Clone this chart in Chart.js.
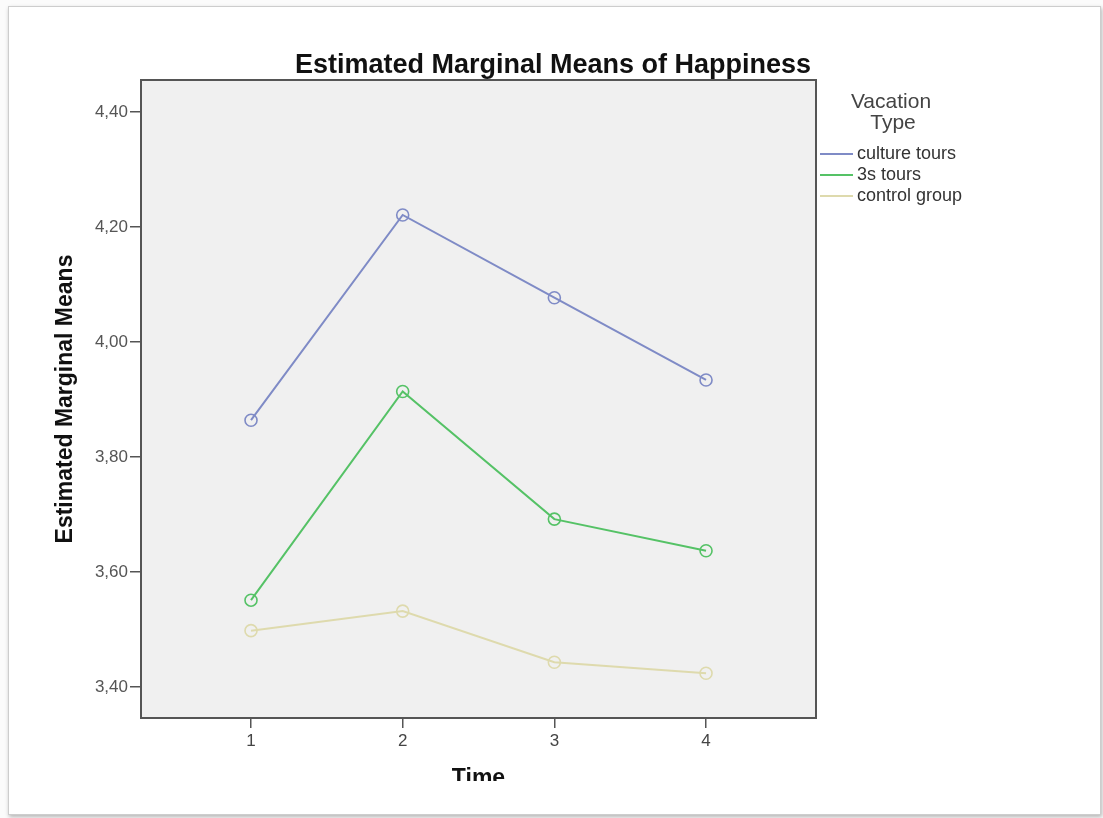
<!DOCTYPE html>
<html>
<head>
<meta charset="utf-8">
<script src="https://cdn.jsdelivr.net/npm/chart.js@4"></script>
<style>
  html, body { margin:0; padding:0; background:#fbfbfb; width:1103px; height:818px; overflow:hidden; }
  .frame { position:absolute; left:8px; top:6px; width:1091px; height:807px; background:#fff;
           border:1px solid #cdcdcd; box-shadow:1px 2px 4px rgba(0,0,0,0.28); }
  .clip { position:absolute; left:0; top:0; width:1103px; height:781px; overflow:hidden; }
  canvas { position:absolute; left:0; top:0; }
</style>
</head>
<body>
<div class="frame"></div>
<div class="clip"><canvas id="emm" width="1103" height="818"></canvas></div>
<script>
// Estimated Marginal Means of Happiness, by time and vacation type
const chartTitle = 'Estimated Marginal Means of Happiness';
const legendTitle = ['Vacation', 'Type'];
const timePoints = [1, 2, 3, 4];
const yTicks = [3.4, 3.6, 3.8, 4.0, 4.2, 4.4];

const groupNames = ['culture tours', '3s tours', 'control group'];
const cultureTours = [3.864, 4.221, 4.077, 3.934];
const threeSTours = [3.551, 3.914, 3.692, 3.637];
const controlGroup = [3.498, 3.532, 3.443, 3.424];
const groupColors = ['#7f8bc6', '#55c266', '#dedaad'];

Chart.defaults.font.family = '"Liberation Sans", Arial, sans-serif';

const pts = vals => timePoints.map((t, i) => ({x: t, y: vals[i]}));
const mkSet = (label, vals, col) => ({
  label, data: pts(vals),
  borderColor: col, backgroundColor: 'rgba(0,0,0,0)',
  borderWidth: 2, tension: 0,
  pointRadius: 6, pointBorderWidth: 1.6, pointHoverRadius: 6,
  pointBorderColor: col, pointBackgroundColor: 'rgba(0,0,0,0)'
});

// grey plot panel with dark frame
const panel = {
  id: 'panel',
  beforeDatasetsDraw(chart){
    const {ctx, chartArea:a} = chart;
    ctx.save();
    ctx.fillStyle = '#f0f0f0';
    ctx.fillRect(a.left, a.top, a.right-a.left, a.bottom-a.top);
    ctx.strokeStyle = '#555';
    ctx.lineWidth = 2;
    ctx.strokeRect(a.left, a.top, a.right-a.left, a.bottom-a.top);
    ctx.restore();
  }
};

// title centred on the whole page + SPSS style legend at the right
const sideLegend = {
  id: 'sideLegend',
  afterDraw(chart){
    const ctx = chart.ctx;
    ctx.save();
    ctx.fillStyle = '#111';
    ctx.font = 'bold 27px "Liberation Sans", Arial, sans-serif';
    ctx.textAlign = 'center';
    ctx.textBaseline = 'alphabetic';
    ctx.fillText(chartTitle, 553, 73);

    ctx.fillStyle = '#444';
    ctx.font = '21px "Liberation Sans", Arial, sans-serif';
    ctx.textBaseline = 'middle';
    ctx.fillText(legendTitle[0], 891, 102);
    ctx.fillText(legendTitle[1], 893, 123);
    ctx.font = '18px "Liberation Sans", Arial, sans-serif';
    ctx.textAlign = 'left';
    chart.data.datasets.forEach((ds, i) => {
      const y = 154 + i*21;
      ctx.strokeStyle = ds.borderColor;
      ctx.lineWidth = 2;
      ctx.beginPath(); ctx.moveTo(820, y); ctx.lineTo(853, y); ctx.stroke();
      ctx.fillStyle = '#333';
      ctx.fillText(ds.label, 857, y);
    });
    ctx.restore();
  }
};

new Chart(document.getElementById('emm'), {
  type: 'line',
  data: {
    datasets: [
      mkSet(groupNames[0], cultureTours, groupColors[0]),
      mkSet(groupNames[1], threeSTours, groupColors[1]),
      mkSet(groupNames[2], controlGroup, groupColors[2])
    ]
  },
  options: {
    responsive: false,
    animation: false,
    devicePixelRatio: 1,
    layout: { padding: {left:0, right:287, top:80, bottom:0} },
    plugins: {
      legend: { display:false },
      tooltip: { enabled:false },
      title: { display:false }
    },
    scales: {
      x: {
        type: 'linear',
        min: 0.2747, max: 4.725,
        afterFit: s => { s.height = 100; },
        afterBuildTicks: s => { s.ticks = timePoints.map(v => ({value:v})); },
        border: { display:false },
        grid: { drawOnChartArea:false, drawTicks:true, tickLength:10, color:'#555', lineWidth:1.5 },
        ticks: { color:'#444', font:{size:17}, padding:3, callback: v => String(v) },
        title: { display:true, text:'Time', color:'#111', font:{size:23, weight:'bold'}, padding:{top:0, bottom:26} }
      },
      y: {
        min: 3.3461, max: 4.4557,
        afterFit: s => { s.width = 141; },
        afterBuildTicks: s => { s.ticks = yTicks.map(v => ({value:v})); },
        border: { display:false },
        grid: { drawOnChartArea:false, drawTicks:true, tickLength:11, color:'#555', lineWidth:1.5 },
        ticks: { color:'#555', font:{size:17}, padding:2, callback: v => v.toFixed(2).replace('.', ',') },
        title: { display:true, text:'Estimated Marginal Means', color:'#111', font:{size:23, weight:'bold'}, padding:{top:52, bottom:0} }
      }
    }
  },
  plugins: [panel, sideLegend]
});
</script>
</body>
</html>
